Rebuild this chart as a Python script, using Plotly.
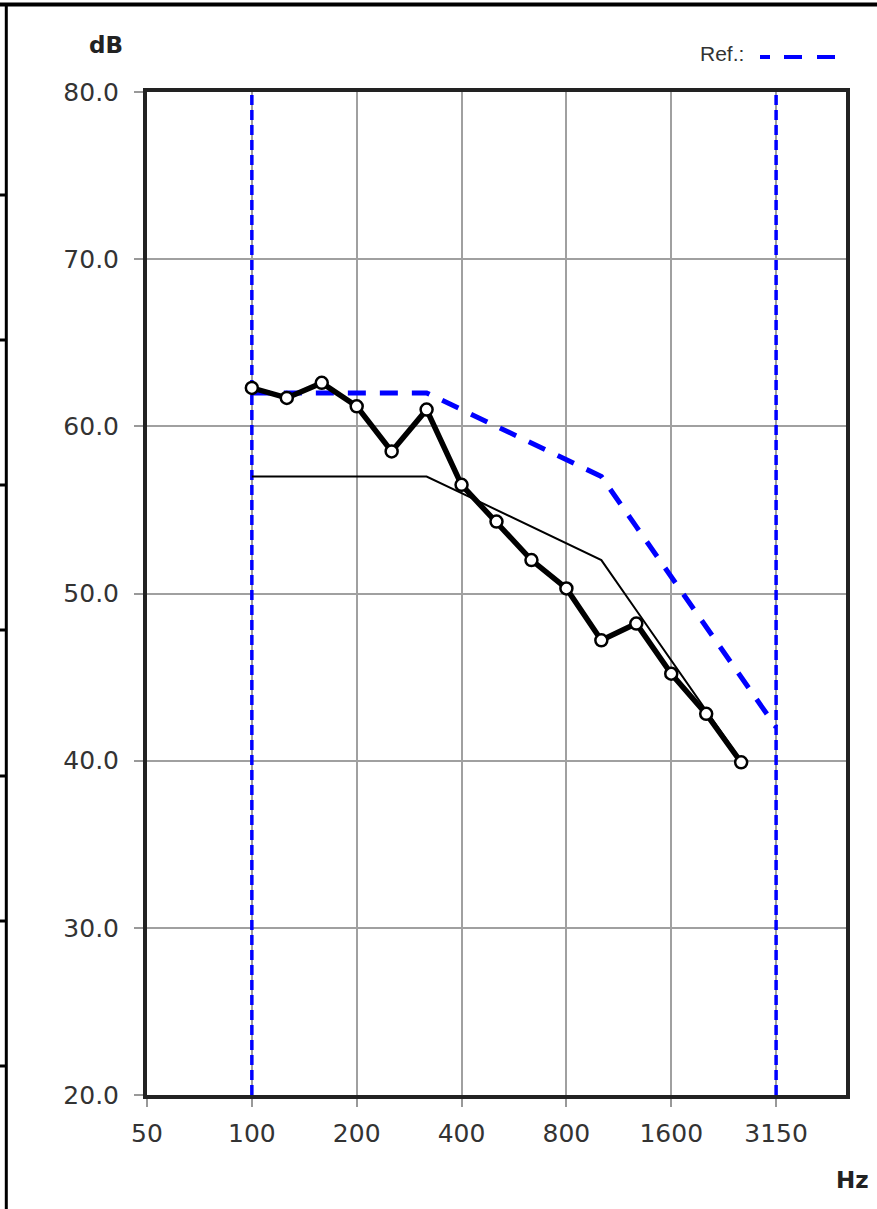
import plotly.graph_objects as go

# ---- data ----
bands = ['50', '63', '80', '100', '125', '160', '200', '250', '315', '400', '500',
         '630', '800', '1000', '1250', '1600', '2000', '2500', '3150', '4000', '5000']
meas_freq = ['100', '125', '160', '200', '250', '315', '400', '500', '630', '800',
             '1000', '1250', '1600', '2000', '2500']
meas_db = [62.3, 61.7, 62.6, 61.2, 58.5, 61.0, 56.5, 54.3, 52.0, 50.3, 47.2, 48.2, 45.2, 42.8, 39.9]
ref_freq = ['100', '125', '160', '200', '250', '315', '400', '500', '630', '800',
            '1000', '1250', '1600', '2000', '2500', '3150']
ref_db = [62, 62, 62, 62, 62, 62, 61, 60, 59, 58, 57, 54, 51, 48, 45, 42]
shift_freq = ['100', '125', '160', '200', '250', '315', '400', '500', '630', '800',
              '1000', '1250', '1600', '2000', '2500']
shift_db = [57, 57, 57, 57, 57, 57, 56, 55, 54, 53, 52, 49, 46, 43, 40]
x_ticks = ['50', '100', '200', '400', '800', '1600', '3150']
y_ticks = [20, 30, 40, 50, 60, 70, 80]
range_lines = ['100', '3150']

W, H = 877, 1209
ML, MR, MT, MB = 147, 31, 92, 114
PW, PH = W - ML - MR, H - MT - MB


def px(x):
    return (x - ML) / PW


def py(y):
    return (H - MB - y) / PH


fig = go.Figure()

# helper to register all band categories
fig.add_trace(go.Scatter(x=bands, y=[None] * len(bands), mode='lines',
                         showlegend=False, hoverinfo='skip'))

for f in range_lines:
    fig.add_trace(go.Scatter(x=[f, f], y=[y_ticks[0], y_ticks[-1]], mode='lines',
                             line=dict(color='#0000FF', width=3.5, dash='10px,5px'),
                             showlegend=False, hoverinfo='skip'))

fig.add_trace(go.Scatter(x=ref_freq, y=ref_db, mode='lines',
                         line=dict(color='#0000FF', width=5, dash='18px,14px'),
                         name='Ref.', showlegend=False))

fig.add_trace(go.Scatter(x=shift_freq, y=shift_db, mode='lines',
                         line=dict(color='black', width=2),
                         showlegend=False))

fig.add_trace(go.Scatter(x=meas_freq, y=meas_db, mode='lines+markers',
                         line=dict(color='black', width=5.5),
                         marker=dict(symbol='circle', size=12, color='white',
                                     line=dict(color='black', width=2.5)),
                         showlegend=False))

tick_font = dict(family='DejaVu Sans', size=25, color='#333333')

fig.update_xaxes(type='category', categoryorder='array', categoryarray=bands,
                 range=[0, len(bands) - 1], tickmode='array', tickvals=x_ticks,
                 ticktext=x_ticks, showgrid=True, gridcolor='#a0a0a0', gridwidth=1.5,
                 showline=True, linecolor='#222222', linewidth=4, mirror=True,
                 ticks='outside', ticklen=8, tickcolor='#999999', tickwidth=1.5,
                 tickfont=tick_font, ticklabelstandoff=5, zeroline=False)
fig.update_yaxes(range=[y_ticks[0], y_ticks[-1]], tickmode='array', tickvals=y_ticks,
                 tickformat='.1f', showgrid=True, gridcolor='#a0a0a0', gridwidth=1.5,
                 showline=True, linecolor='#222222', linewidth=4, mirror=True,
                 ticks='outside', ticklen=9, tickcolor='#999999', tickwidth=1.5,
                 tickfont=tick_font, ticklabelstandoff=10, zeroline=False)

shapes = []
# outer cell borders
shapes.append(dict(type='line', xref='paper', yref='paper', x0=px(0), x1=px(W),
                   y0=py(4.5), y1=py(4.5), line=dict(color='black', width=4)))
shapes.append(dict(type='line', xref='paper', yref='paper', x0=px(6.3), x1=px(6.3),
                   y0=py(3), y1=py(H), line=dict(color='black', width=3)))
for yy in [195, 340, 485, 630, 776, 921, 1066]:
    shapes.append(dict(type='line', xref='paper', yref='paper', x0=px(0), x1=px(6.3),
                       y0=py(yy), y1=py(yy), line=dict(color='black', width=3)))
# legend key (Ref.: dashed blue)
for a, b in [(760, 770), (784, 802), (817, 835)]:
    shapes.append(dict(type='line', xref='paper', yref='paper', x0=px(a), x1=px(b),
                       y0=py(57), y1=py(57), line=dict(color='#0000FF', width=4)))

annotations = [
    dict(text='<b>dB</b>', xref='paper', yref='paper', x=px(106), y=py(45),
         xanchor='center', yanchor='middle', showarrow=False,
         font=dict(family='DejaVu Sans', size=23, color='#222222')),
    dict(text='<b>Hz</b>', xref='paper', yref='paper', x=px(852), y=py(1180),
         xanchor='center', yanchor='middle', showarrow=False,
         font=dict(family='DejaVu Sans', size=23, color='#222222')),
    dict(text='Ref.:', xref='paper', yref='paper', x=px(746), y=py(54),
         xanchor='right', yanchor='middle', showarrow=False,
         font=dict(family='Liberation Sans', size=21, color='#333333')),
]

fig.update_layout(width=W, height=H, margin=dict(l=ML, r=MR, t=MT, b=MB, pad=0),
                  plot_bgcolor='white', paper_bgcolor='white', showlegend=False,
                  shapes=shapes, annotations=annotations)

fig.write_html('out.html', config={'displayModeBar': False},
               post_script="document.body.style.margin='0';"
                           "document.body.style.overflow='hidden';")
